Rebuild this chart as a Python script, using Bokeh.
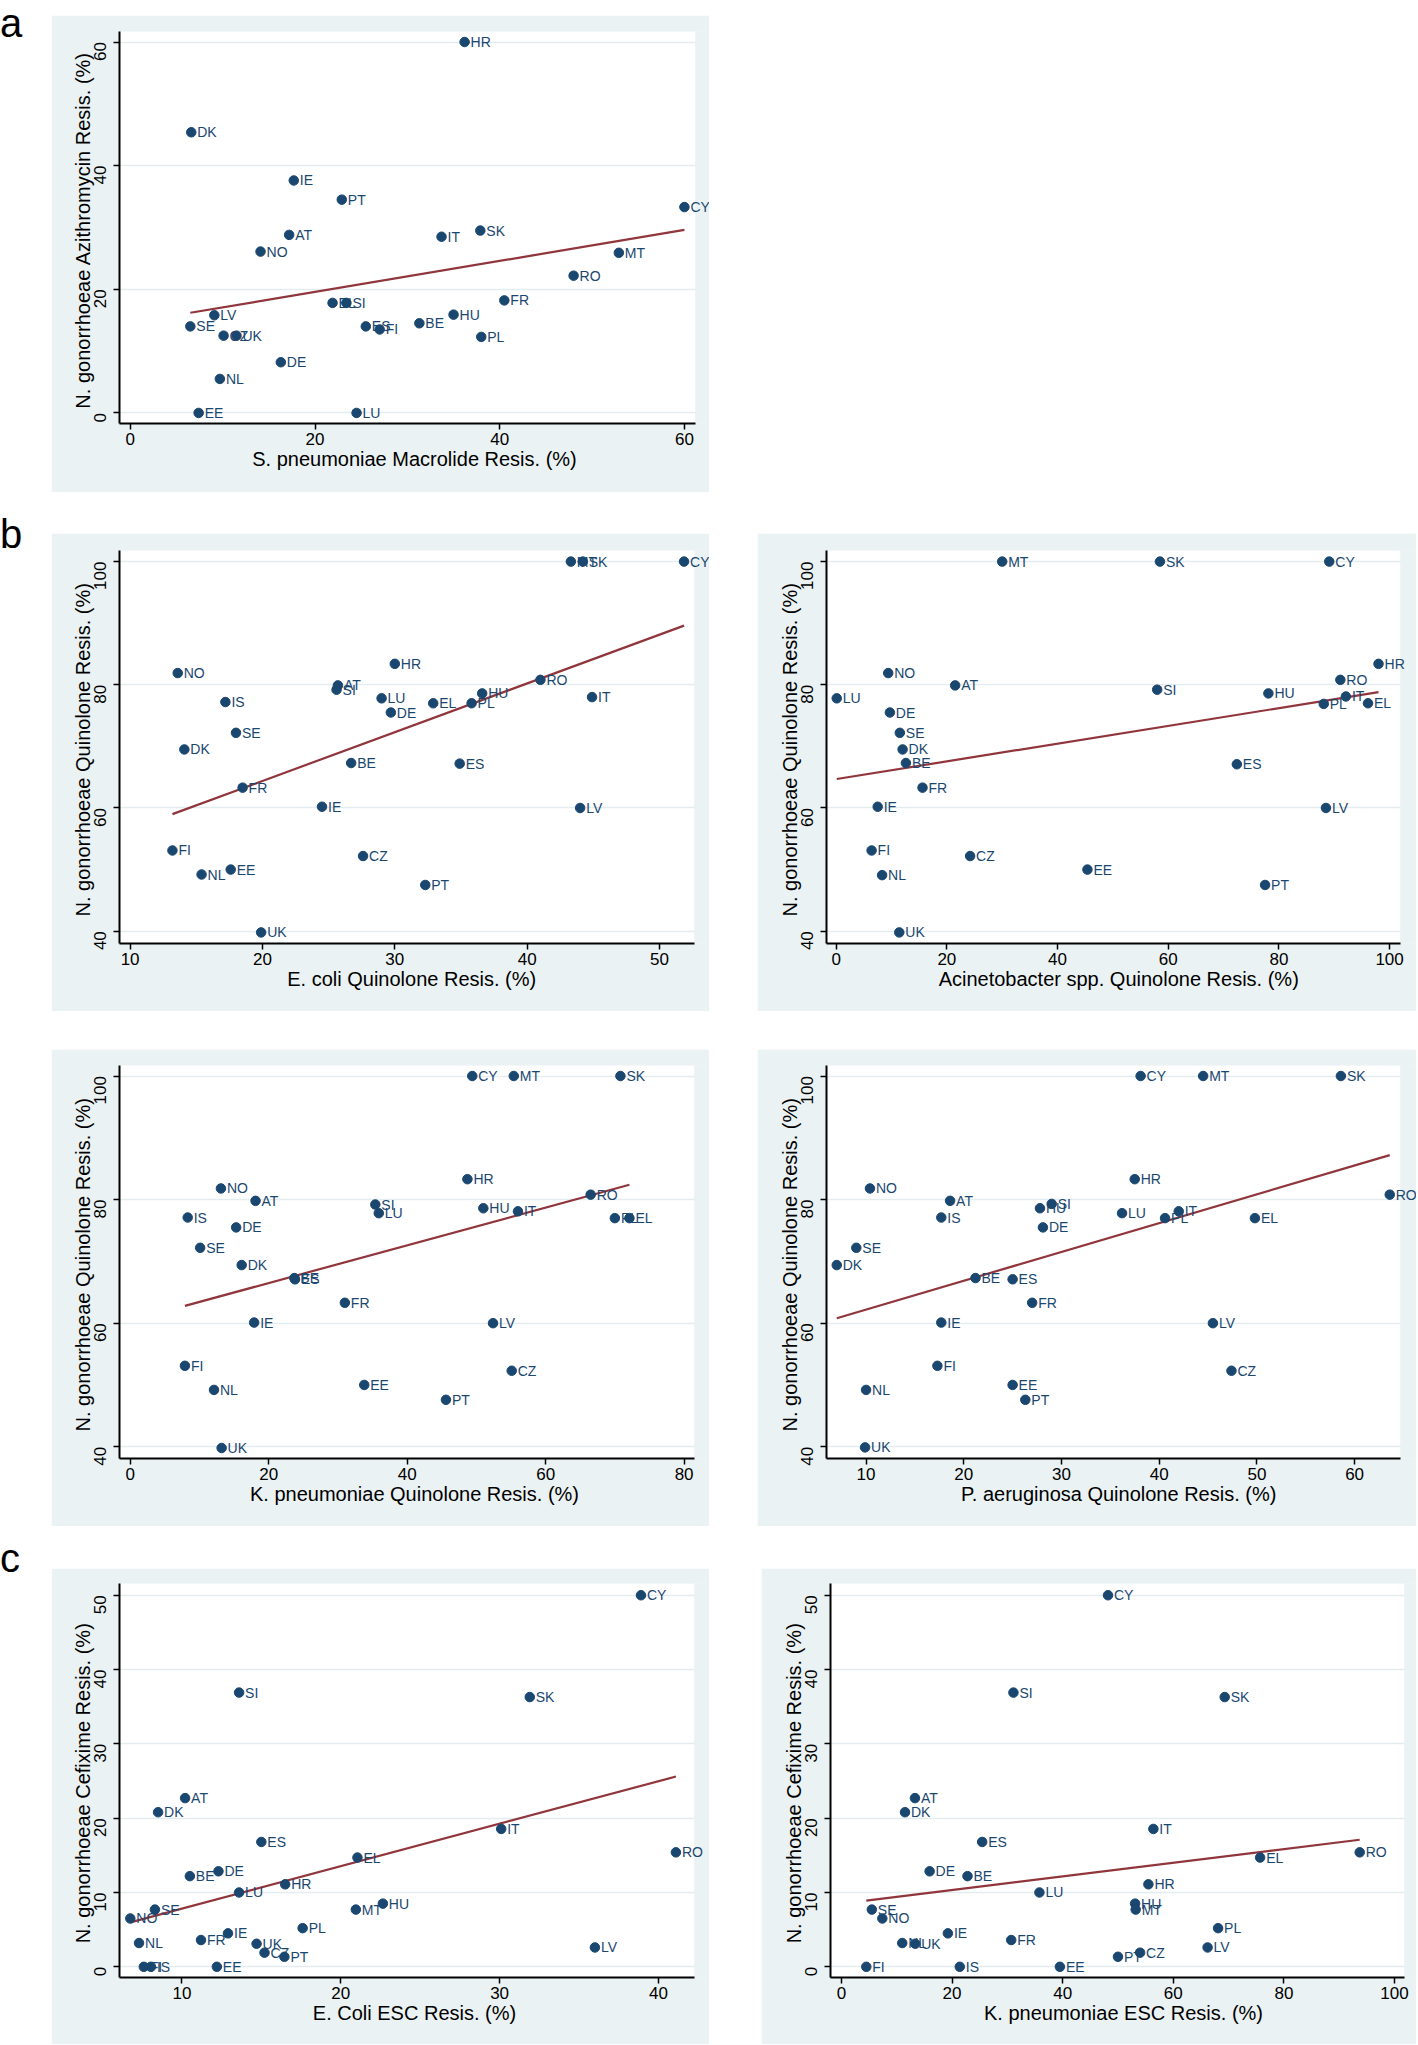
import math
from bokeh.plotting import figure
from bokeh.models import Range1d, FixedTicker, ColumnDataSource, Div, Spacer
from bokeh.layouts import row, column
from bokeh.core.properties import value
from bokeh.embed import file_html
from bokeh.resources import INLINE

# ---------------- data ----------------
# Panel a: S. pneumoniae macrolide vs N. gonorrhoeae azithromycin
a_country = ["HR", "DK", "IE", "PT", "CY", "AT", "IT", "SK", "NO", "MT", "RO", "FR", "EL", "SI",
             "HU", "LV", "BE", "SE", "ES", "FI", "PL", "CZ", "UK", "DE", "NL", "EE", "LU"]
a_x = [36.2, 6.6, 17.7, 22.9, 60.0, 17.2, 33.7, 37.9, 14.1, 52.9, 48.0, 40.5, 21.9, 23.4,
       35.0, 9.1, 31.3, 6.5, 25.5, 27.0, 38.0, 10.1, 11.5, 16.3, 9.7, 7.4, 24.5]
a_y = [60.0, 45.4, 37.6, 34.5, 33.3, 28.8, 28.5, 29.5, 26.1, 25.9, 22.2, 18.2, 17.8, 17.8,
       15.9, 15.8, 14.5, 14.0, 14.0, 13.5, 12.3, 12.5, 12.5, 8.2, 5.5, 0.0, 0.0]
a_fit_x = [6.5, 60.0]
a_fit_y = [16.2, 29.6]
a_xticks = [0, 20, 40, 60]
a_yticks = [0, 20, 40, 60]

# Panel b1: E. coli quinolone vs N. gonorrhoeae quinolone
b1_country = ["CY", "MT", "SK", "HR", "NO", "RO", "AT", "SI", "HU", "IT", "LU", "IS", "EL", "PL",
              "DE", "SE", "DK", "BE", "ES", "FR", "IE", "LV", "FI", "CZ", "EE", "NL", "PT", "UK"]
b1_x = [51.85, 43.3, 44.2, 30.0, 13.6, 41.0, 25.7, 25.6, 36.6, 44.9, 29.0, 17.2, 32.9, 35.8,
        29.7, 18.0, 14.1, 26.7, 34.9, 18.5, 24.5, 44.0, 13.2, 27.6, 17.6, 15.4, 32.3, 19.9]
b1_y = [100.0, 100.0, 100.0, 83.4, 81.9, 80.8, 79.9, 79.2, 78.6, 78.0, 77.8, 77.2, 77.0, 77.0,
        75.5, 72.2, 69.5, 67.3, 67.2, 63.3, 60.2, 60.0, 53.1, 52.2, 50.0, 49.2, 47.5, 39.8]
b1_fit_x = [13.2, 51.85]
b1_fit_y = [59.0, 89.6]
b1_xticks = [10, 20, 30, 40, 50]

# Panel b2: Acinetobacter spp. quinolone
b2_country = ["MT", "SK", "CY", "HR", "NO", "RO", "AT", "SI", "LU", "HU", "IT", "PL", "EL", "DE",
              "SE", "DK", "BE", "ES", "FR", "IE", "LV", "FI", "CZ", "EE", "NL", "PT", "UK"]
b2_x = [30.0, 58.5, 89.1, 98.0, 9.4, 91.1, 21.5, 58.0, 0.1, 78.1, 92.1, 88.1, 96.1, 9.7,
        11.5, 12.0, 12.6, 72.4, 15.6, 7.5, 88.5, 6.4, 24.2, 45.4, 8.3, 77.5, 11.4]
b2_y = [100.0, 100.0, 100.0, 83.4, 81.9, 80.8, 79.9, 79.2, 77.8, 78.6, 78.1, 76.9, 77.0, 75.5,
        72.2, 69.5, 67.3, 67.1, 63.3, 60.2, 60.0, 53.1, 52.2, 50.0, 49.1, 47.5, 39.8]
b2_fit_x = [0.1, 98.0]
b2_fit_y = [64.7, 78.8]
b2_xticks = [0, 20, 40, 60, 80, 100]

# Panel b3: K. pneumoniae quinolone
b3_country = ["CY", "MT", "SK", "HR", "NO", "RO", "AT", "SI", "HU", "IT", "LU", "IS", "PL", "EL",
              "DE", "SE", "DK", "BE", "ES", "FR", "IE", "LV", "FI", "CZ", "EE", "NL", "PT", "UK"]
b3_x = [49.4, 55.4, 70.8, 48.7, 13.1, 66.5, 18.1, 35.4, 51.0, 56.0, 35.9, 8.3, 70.0, 72.1,
        15.3, 10.1, 16.1, 23.7, 23.8, 31.0, 17.9, 52.4, 7.9, 55.1, 33.8, 12.1, 45.6, 13.2]
b3_y = [100.0, 100.0, 100.0, 83.3, 81.8, 80.8, 79.8, 79.2, 78.6, 78.1, 77.8, 77.1, 77.0, 77.0,
        75.5, 72.2, 69.4, 67.3, 67.1, 63.3, 60.1, 60.0, 53.1, 52.3, 50.0, 49.2, 47.6, 39.8]
b3_fit_x = [7.9, 72.1]
b3_fit_y = [62.8, 82.4]
b3_xticks = [0, 20, 40, 60, 80]

# Panel b4: P. aeruginosa quinolone
b4_country = ["CY", "MT", "SK", "HR", "NO", "RO", "AT", "HU", "SI", "LU", "IT", "IS", "PL", "EL",
              "DE", "SE", "DK", "BE", "ES", "FR", "IE", "LV", "FI", "CZ", "EE", "NL", "PT", "UK"]
b4_x = [38.1, 44.5, 58.6, 37.5, 10.4, 63.6, 18.6, 27.8, 29.0, 36.2, 42.0, 17.7, 40.6, 49.8,
        28.1, 9.0, 7.0, 21.2, 25.0, 27.0, 17.7, 45.5, 17.3, 47.4, 25.0, 10.0, 26.3, 9.9]
b4_y = [100.0, 100.0, 100.0, 83.3, 81.8, 80.8, 79.8, 78.6, 79.3, 77.8, 78.1, 77.1, 77.0, 77.0,
        75.5, 72.2, 69.4, 67.3, 67.1, 63.3, 60.1, 60.0, 53.1, 52.3, 50.0, 49.2, 47.6, 39.9]
b4_fit_x = [7.0, 63.6]
b4_fit_y = [60.8, 87.2]
b4_xticks = [10, 20, 30, 40, 50, 60]
b_yticks = [40, 60, 80, 100]

# Panel c1: E. coli ESC vs N. gonorrhoeae cefixime
c1_country = ["CY", "SI", "SK", "AT", "DK", "IT", "ES", "RO", "EL", "DE", "BE", "HR", "LU", "HU",
              "SE", "MT", "NO", "PL", "IE", "FR", "NL", "UK", "CZ", "PT", "LV", "FI", "IS", "EE"]
c1_x = [38.9, 13.6, 31.9, 10.2, 8.5, 30.1, 15.0, 41.1, 21.05, 12.3, 10.5, 16.5, 13.6, 22.65,
        8.3, 20.95, 6.75, 17.6, 12.9, 11.2, 7.3, 14.7, 15.2, 16.45, 36.0, 7.6, 8.05, 12.2]
c1_y = [50.0, 36.9, 36.3, 22.7, 20.8, 18.55, 16.8, 15.4, 14.7, 12.85, 12.2, 11.1, 10.0, 8.5,
        7.7, 7.7, 6.5, 5.2, 4.5, 3.6, 3.2, 3.1, 1.9, 1.35, 2.6, 0.0, 0.0, 0.0]
c1_fit_x = [6.75, 41.1]
c1_fit_y = [5.97, 25.6]
c1_xticks = [10, 20, 30, 40]

# Panel c2: K. pneumoniae ESC vs N. gonorrhoeae cefixime
c2_country = ["CY", "SI", "SK", "AT", "DK", "IT", "ES", "RO", "EL", "DE", "BE", "HR", "LU", "HU",
              "MT", "SE", "NO", "PL", "IE", "FR", "NL", "UK", "CZ", "PT", "LV", "FI", "IS", "EE"]
c2_x = [48.2, 31.1, 69.3, 13.3, 11.5, 56.4, 25.45, 93.7, 75.7, 15.95, 22.8, 55.5, 35.8, 53.1,
        53.2, 5.5, 7.4, 68.1, 19.25, 30.7, 11.0, 13.35, 54.0, 50.0, 66.2, 4.5, 21.4, 39.5]
c2_y = [50.0, 36.9, 36.3, 22.7, 20.8, 18.55, 16.8, 15.4, 14.7, 12.85, 12.2, 11.1, 10.0, 8.5,
        7.7, 7.7, 6.5, 5.2, 4.5, 3.6, 3.2, 3.1, 1.9, 1.35, 2.6, 0.0, 0.0, 0.0]
c2_fit_x = [4.5, 93.7]
c2_fit_y = [8.9, 17.1]
c2_xticks = [0, 20, 40, 60, 80, 100]
c_yticks = [0, 10, 20, 30, 40, 50]

# ---------------- styling ----------------
NAVY = "#1A476F"
MAROON = "#90353B"
BG = "#EAF2F3"
GRID = "#E3ECEF"
FONT = "Liberation Sans"


def panel(countries, xs, ys, fit_x, fit_y, xticks, yticks, xr, yr, xlabel, ylabel,
          width, height, borders):
    left, right, top, bottom = borders
    # the frame is extended over the right margin so that point labels may run past
    # the plot region (as in the original); that strip is painted in the margin colour.
    frame_w = width - left - right
    x_ext = xr[1] + right * (xr[1] - xr[0]) / frame_w
    p = figure(width=width, height=height, x_range=Range1d(xr[0], x_ext),
               y_range=Range1d(*yr), output_backend="svg", toolbar_location=None,
               min_border_left=left, min_border_right=0,
               min_border_top=top, min_border_bottom=bottom)
    p.border_fill_color = BG
    p.background_fill_color = BG
    p.outline_line_color = None

    region = p.quad(left=[xr[0]], right=[xr[1]], bottom=[yr[0]], top=[yr[1]],
                    fill_color="white", line_color=None)
    region.level = "image"

    p.xgrid.visible = False
    p.ygrid.ticker = FixedTicker(ticks=yticks)
    p.ygrid.grid_line_color = GRID
    p.ygrid.grid_line_width = 1.5
    p.xaxis.ticker = FixedTicker(ticks=xticks)
    p.yaxis.ticker = FixedTicker(ticks=yticks)
    p.xaxis.bounds = (xr[0], xr[1])
    for ax in (p.xaxis, p.yaxis):
        ax.axis_line_color = "black"
        ax.axis_line_width = 2
        ax.major_tick_line_color = "black"
        ax.major_tick_line_width = 1.5
        ax.major_tick_in = 0
        ax.major_tick_out = 6
        ax.minor_tick_line_color = None
        ax.major_label_text_font = FONT
        ax.major_label_text_font_size = "17px"
        ax.major_label_text_color = "black"
        ax.axis_label_text_font = FONT
        ax.axis_label_text_font_size = "20px"
        ax.axis_label_text_font_style = "normal"
        ax.axis_label_text_color = "black"
    p.xaxis.axis_label = xlabel
    p.yaxis.axis_label = ylabel
    p.xaxis.major_label_standoff = 3
    p.xaxis.axis_label_standoff = 0
    p.yaxis.major_label_orientation = math.pi / 2
    p.yaxis.major_label_standoff = 13
    p.yaxis.axis_label_standoff = -8

    # margin-coloured strip hiding the grid lines right of the plot region
    p.quad(left=[xr[1]], right=[x_ext], bottom=[yr[0]], top=[yr[1]],
           fill_color=BG, line_color=None)

    src = ColumnDataSource(dict(x=xs, y=ys, label=countries))
    p.line(fit_x, fit_y, line_color=MAROON, line_width=2.2)
    p.text(x="x", y="y", text="label", source=src, x_offset=6, y_offset=0,
           text_font=value(FONT), text_font_size="14px", text_color=NAVY,
           text_baseline="middle", text_align="left")
    p.scatter(x="x", y="y", source=src, size=9.5, fill_color=NAVY, line_color=NAVY)
    return p


def letter(ch, top, width, height):
    html = ('<div style="position:relative; left:0px; top:%dpx; font-family:\'Liberation Sans\';'
            ' font-size:40px; line-height:26px; color:#000;">%s</div>' % (top, ch))
    return Div(text=html, width=width, height=height, margin=(0, 0, 0, 0))


Y_AZ = "N. gonorrhoeae  Azithromycin Resis. (%)"
Y_Q = "N. gonorrhoeae  Quinolone Resis. (%)"
Y_C = "N. gonorrhoeae  Cefixime Resis. (%)"

pa = panel(a_country, a_x, a_y, a_fit_x, a_fit_y, a_xticks, a_yticks,
           (-1.17, 61.2), (-1.71, 61.7), "S. pneumoniae Macrolide Resis. (%)", Y_AZ,
           658, 477, (68, 14, 16, 69))
pb1 = panel(b1_country, b1_x, b1_y, b1_fit_x, b1_fit_y, b1_xticks, b_yticks,
            (9.2, 52.64), (38.0, 101.8), "E. coli  Quinolone Resis. (%)", Y_Q,
            658, 478, (68, 15, 17, 68))
pb2 = panel(b2_country, b2_x, b2_y, b2_fit_x, b2_fit_y, b2_xticks, b_yticks,
            (-1.75, 101.97), (38.0, 101.8), "Acinetobacter spp.  Quinolone Resis. (%)", Y_Q,
            659, 478, (69, 16, 17, 68))
pb3 = panel(b3_country, b3_x, b3_y, b3_fit_x, b3_fit_y, b3_xticks, b_yticks,
            (-1.55, 81.5), (38.1, 101.7), "K. pneumoniae Quinolone Resis. (%)", Y_Q,
            658, 477, (68, 15, 16, 68))
pb4 = panel(b4_country, b4_x, b4_y, b4_fit_x, b4_fit_y, b4_xticks, b_yticks,
            (5.95, 64.7), (38.1, 101.7), "P. aeruginosa  Quinolone Resis. (%)", Y_Q,
            659, 477, (69, 16, 16, 68))
pc1 = panel(c1_country, c1_x, c1_y, c1_fit_x, c1_fit_y, c1_xticks, c_yticks,
            (6.07, 42.27), (-1.44, 51.58), "E. Coli ESC Resis. (%)", Y_C,
            658, 476, (68, 15, 15, 67))
pc2 = panel(c2_country, c2_x, c2_y, c2_fit_x, c2_fit_y, c2_xticks, c_yticks,
            (-1.97, 101.8), (-1.44, 51.58), "K. pneumoniae ESC Resis. (%)", Y_C,
            655, 476, (69, 12, 15, 67))


def sp(w=None, h=None):
    kw = dict(margin=(0, 0, 0, 0))
    if w is not None:
        kw["width"] = w
    if h is not None:
        kw["height"] = h
    return Spacer(**kw)


band1 = row(letter("a", 10, 51, 492), column(sp(h=15), pa), sp(w=48, h=492))
band2 = row(letter("b", 29, 51, 519), column(sp(h=41), pb1), sp(w=48, h=519),
            column(sp(h=41), pb2))
band3 = row(sp(w=51, h=515), column(sp(h=38), pb3), sp(w=48, h=515), column(sp(h=38), pb4))
band4 = row(letter("c", 19, 51, 518), column(sp(h=42), pc1), sp(w=52, h=518),
            column(sp(h=42), pc2))

layout = column(band1, band2, band3, band4)

open("out.html", "w").write(file_html(layout, INLINE))
